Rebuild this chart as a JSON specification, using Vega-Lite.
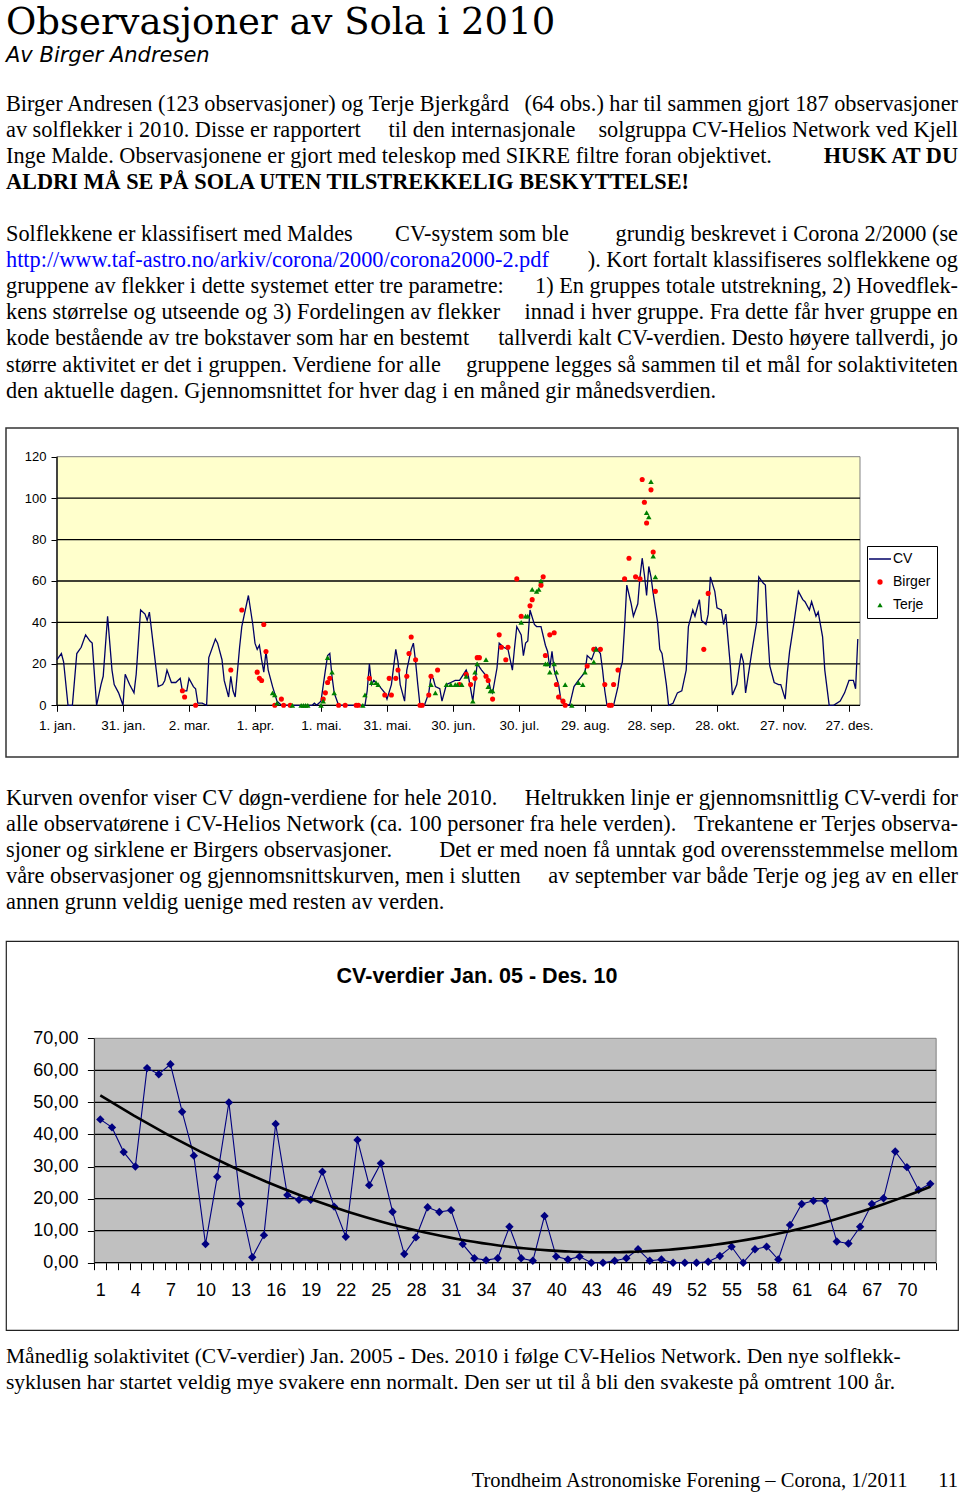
{
  "$schema": "https://vega.github.io/schema/vega-lite/v6.json",
  "background": "white",
  "padding": {"left": 5, "right": 3, "top": 0, "bottom": 0},
  "spacing": 0,
  "bounds": "flush",
  "config": {"view": {"stroke": null},
             "legend": {"labelFont": "Liberation Sans", "labelFontSize": 14, "labelColor": "#000", "rowPadding": 9, "labelOffset": 6, "padding": 6}},
  "datasets": {
    "cv": [
      {"d":0,"v":22},{"d":2,"v":25},{"d":3,"v":21},{"d":5,"v":0},{"d":7,"v":0},{"d":9,"v":25},{"d":11,"v":28},{"d":13,"v":34},{"d":15,"v":31},{"d":16,"v":30},{"d":18,"v":0},{"d":20,"v":10},{"d":21,"v":14},{"d":23,"v":43},{"d":25,"v":17},{"d":26,"v":10},{"d":28,"v":6},{"d":30,"v":0},{"d":31,"v":15},{"d":33,"v":10},{"d":35,"v":6},{"d":36,"v":15},{"d":38,"v":46},{"d":40,"v":44},{"d":41,"v":41},{"d":42,"v":45},{"d":44,"v":27},{"d":46,"v":9},{"d":48,"v":10},{"d":49,"v":12},{"d":50,"v":17},{"d":52,"v":11},{"d":54,"v":11},{"d":56,"v":13},{"d":57,"v":7},{"d":59,"v":7},{"d":60,"v":13},{"d":62,"v":9},{"d":63,"v":8},{"d":64,"v":1},{"d":66,"v":1},{"d":68,"v":0},{"d":69,"v":23},{"d":72,"v":32},{"d":73,"v":30},{"d":75,"v":22},{"d":76,"v":12},{"d":78,"v":4},{"d":79,"v":14},{"d":80,"v":7},{"d":81,"v":4},{"d":83,"v":28},{"d":84,"v":38},{"d":85,"v":43},{"d":87,"v":53},{"d":89,"v":39},{"d":90,"v":30},{"d":91,"v":27},{"d":92,"v":29},{"d":93,"v":22},{"d":94,"v":16},{"d":95,"v":26},{"d":96,"v":17},{"d":98,"v":9},{"d":100,"v":2},{"d":102,"v":0},{"d":116,"v":0},{"d":117,"v":1},{"d":118,"v":0},{"d":120,"v":2},{"d":122,"v":17},{"d":123,"v":24},{"d":124,"v":25},{"d":125,"v":14},{"d":126,"v":6},{"d":128,"v":0},{"d":140,"v":0},{"d":141,"v":7},{"d":142,"v":20},{"d":143,"v":10},{"d":144,"v":12},{"d":146,"v":10},{"d":149,"v":6},{"d":150,"v":3},{"d":152,"v":10},{"d":154,"v":27},{"d":155,"v":21},{"d":156,"v":10},{"d":158,"v":2},{"d":159,"v":17},{"d":161,"v":27},{"d":162,"v":30},{"d":163,"v":21},{"d":164,"v":10},{"d":165,"v":0},{"d":167,"v":0},{"d":169,"v":6},{"d":170,"v":14},{"d":171,"v":13},{"d":172,"v":9},{"d":174,"v":8},{"d":175,"v":2},{"d":177,"v":10},{"d":179,"v":11},{"d":181,"v":12},{"d":183,"v":12},{"d":186,"v":17},{"d":187,"v":14},{"d":189,"v":2},{"d":191,"v":20},{"d":193,"v":17},{"d":196,"v":13},{"d":197,"v":8},{"d":198,"v":6},{"d":200,"v":18},{"d":201,"v":30},{"d":203,"v":28},{"d":205,"v":27},{"d":207,"v":17},{"d":208,"v":28},{"d":209,"v":38},{"d":211,"v":34},{"d":212,"v":24},{"d":213,"v":30},{"d":214,"v":31},{"d":215,"v":46},{"d":217,"v":39},{"d":218,"v":38},{"d":220,"v":38},{"d":222,"v":29},{"d":223,"v":26},{"d":224,"v":18},{"d":225,"v":26},{"d":226,"v":17},{"d":228,"v":10},{"d":229,"v":3},{"d":230,"v":1},{"d":233,"v":0},{"d":235,"v":9},{"d":237,"v":12},{"d":240,"v":16},{"d":241,"v":24},{"d":243,"v":22},{"d":245,"v":28},{"d":247,"v":25},{"d":248,"v":17},{"d":249,"v":7},{"d":250,"v":0},{"d":253,"v":0},{"d":255,"v":9},{"d":256,"v":17},{"d":257,"v":21},{"d":258,"v":38},{"d":259,"v":58},{"d":261,"v":49},{"d":262,"v":43},{"d":264,"v":49},{"d":265,"v":62},{"d":266,"v":71},{"d":267,"v":63},{"d":268,"v":53},{"d":269,"v":67},{"d":270,"v":62},{"d":271,"v":54},{"d":272,"v":47},{"d":273,"v":40},{"d":274,"v":27},{"d":275,"v":25},{"d":277,"v":10},{"d":278,"v":0},{"d":280,"v":1},{"d":282,"v":6},{"d":284,"v":7},{"d":286,"v":17},{"d":287,"v":38},{"d":289,"v":46},{"d":290,"v":43},{"d":292,"v":51},{"d":293,"v":41},{"d":294,"v":40},{"d":295,"v":39},{"d":296,"v":44},{"d":297,"v":62},{"d":299,"v":55},{"d":300,"v":47},{"d":302,"v":46},{"d":303,"v":39},{"d":304,"v":44},{"d":306,"v":20},{"d":307,"v":5},{"d":309,"v":10},{"d":311,"v":25},{"d":312,"v":21},{"d":313,"v":6},{"d":315,"v":20},{"d":316,"v":27},{"d":318,"v":40},{"d":319,"v":62},{"d":321,"v":59},{"d":322,"v":58},{"d":323,"v":36},{"d":324,"v":19},{"d":326,"v":11},{"d":328,"v":10},{"d":329,"v":10},{"d":331,"v":3},{"d":332,"v":16},{"d":333,"v":26},{"d":335,"v":40},{"d":337,"v":55},{"d":339,"v":51},{"d":340,"v":50},{"d":342,"v":46},{"d":343,"v":50},{"d":345,"v":43},{"d":346,"v":45},{"d":348,"v":33},{"d":349,"v":17},{"d":351,"v":0},{"d":353,"v":0},{"d":356,"v":2},{"d":358,"v":6},{"d":360,"v":12},{"d":362,"v":12},{"d":363,"v":8},{"d":364,"v":32}
    ],
    "birger": [
      {"d":57,"v":7},{"d":58,"v":4},{"d":63,"v":0},{"d":79,"v":17},{"d":84,"v":46},{"d":91,"v":16},{"d":92,"v":13},{"d":93,"v":12},{"d":94,"v":39},{"d":95,"v":26},{"d":99,"v":0},{"d":102,"v":3},{"d":103,"v":0},{"d":106,"v":0},{"d":121,"v":3},{"d":122,"v":6},{"d":123,"v":11},{"d":124,"v":13},{"d":128,"v":0},{"d":131,"v":0},{"d":136,"v":0},{"d":137,"v":0},{"d":142,"v":13},{"d":149,"v":5},{"d":151,"v":13},{"d":152,"v":5},{"d":154,"v":13},{"d":155,"v":17},{"d":159,"v":14},{"d":160,"v":25},{"d":161,"v":33},{"d":163,"v":22},{"d":165,"v":0},{"d":166,"v":0},{"d":169,"v":5},{"d":170,"v":14},{"d":173,"v":17},{"d":183,"v":10},{"d":186,"v":15},{"d":188,"v":10},{"d":190,"v":13},{"d":191,"v":23},{"d":192,"v":23},{"d":195,"v":14},{"d":196,"v":12},{"d":198,"v":3},{"d":201,"v":34},{"d":202,"v":28},{"d":204,"v":22},{"d":205,"v":28},{"d":209,"v":61},{"d":211,"v":43},{"d":215,"v":48},{"d":216,"v":51},{"d":220,"v":58},{"d":221,"v":62},{"d":222,"v":24},{"d":224,"v":34},{"d":226,"v":35},{"d":227,"v":10},{"d":228,"v":4},{"d":230,"v":2},{"d":231,"v":0},{"d":241,"v":19},{"d":244,"v":27},{"d":247,"v":27},{"d":249,"v":10},{"d":251,"v":0},{"d":252,"v":0},{"d":253,"v":10},{"d":255,"v":17},{"d":258,"v":61},{"d":260,"v":71},{"d":263,"v":62},{"d":265,"v":61},{"d":266,"v":109},{"d":267,"v":98},{"d":268,"v":88},{"d":270,"v":104},{"d":271,"v":74},{"d":272,"v":55},{"d":294,"v":27},{"d":296,"v":54}
    ],
    "terje": [
      {"d":98,"v":6},{"d":99,"v":5},{"d":100,"v":1},{"d":107,"v":0},{"d":111,"v":0},{"d":112,"v":0},{"d":113,"v":0},{"d":114,"v":0},{"d":120,"v":0},{"d":121,"v":2},{"d":123,"v":23},{"d":125,"v":16},{"d":126,"v":6},{"d":139,"v":0},{"d":140,"v":5},{"d":143,"v":11},{"d":145,"v":11},{"d":146,"v":10},{"d":170,"v":10},{"d":172,"v":6},{"d":177,"v":10},{"d":179,"v":10},{"d":181,"v":10},{"d":182,"v":10},{"d":184,"v":10},{"d":186,"v":14},{"d":189,"v":2},{"d":190,"v":16},{"d":191,"v":20},{"d":195,"v":22},{"d":196,"v":9},{"d":197,"v":7},{"d":198,"v":7},{"d":211,"v":40},{"d":213,"v":43},{"d":214,"v":43},{"d":216,"v":56},{"d":218,"v":55},{"d":219,"v":56},{"d":220,"v":60},{"d":222,"v":20},{"d":223,"v":20},{"d":224,"v":16},{"d":226,"v":20},{"d":227,"v":16},{"d":231,"v":10},{"d":234,"v":0},{"d":237,"v":11},{"d":239,"v":10},{"d":240,"v":16},{"d":244,"v":21},{"d":245,"v":27},{"d":268,"v":93},{"d":269,"v":91},{"d":270,"v":108},{"d":271,"v":72},{"d":272,"v":62}
    ],
    "monthly": [
      {"m":1,"v":44.7},{"m":2,"v":42.2},{"m":3,"v":34.5},{"m":4,"v":30},{"m":5,"v":60.7},{"m":6,"v":58.8},{"m":7,"v":61.9},{"m":8,"v":47.1},{"m":9,"v":33.4},{"m":10,"v":5.8},{"m":11,"v":26.8},{"m":12,"v":50},{"m":13,"v":18.4},{"m":14,"v":1.7},{"m":15,"v":8.6},{"m":16,"v":43.3},{"m":17,"v":21.1},{"m":18,"v":19.6},{"m":19,"v":19.6},{"m":20,"v":28.4},{"m":21,"v":17.5},{"m":22,"v":8.1},{"m":23,"v":38.3},{"m":24,"v":24.2},{"m":25,"v":31},{"m":26,"v":15.9},{"m":27,"v":2.7},{"m":28,"v":7.9},{"m":29,"v":17.3},{"m":30,"v":15.8},{"m":31,"v":16.4},{"m":32,"v":5.8},{"m":33,"v":1.4},{"m":34,"v":0.8},{"m":35,"v":1.4},{"m":36,"v":11.2},{"m":37,"v":1.4},{"m":38,"v":0.6},{"m":39,"v":14.6},{"m":40,"v":1.9},{"m":41,"v":1.0},{"m":42,"v":1.9},{"m":43,"v":0},{"m":44,"v":0},{"m":45,"v":0.6},{"m":46,"v":1.4},{"m":47,"v":4.2},{"m":48,"v":0.6},{"m":49,"v":1.0},{"m":50,"v":0},{"m":51,"v":0},{"m":52,"v":0},{"m":53,"v":0.3},{"m":54,"v":2.1},{"m":55,"v":5},{"m":56,"v":0},{"m":57,"v":4.2},{"m":58,"v":5},{"m":59,"v":1.0},{"m":60,"v":11.8},{"m":61,"v":18.3},{"m":62,"v":19.3},{"m":63,"v":19.3},{"m":64,"v":6.6},{"m":65,"v":6},{"m":66,"v":11.2},{"m":67,"v":18.3},{"m":68,"v":20.1},{"m":69,"v":34.7},{"m":70,"v":29.8},{"m":71,"v":22.7},{"m":72,"v":24.6}
    ]
  },
  "vconcat": [
    {
      "width": 952, "height": 428,
      "view": {"stroke": null},
      "encoding": {
        "y": {"field": "line", "type": "quantitative", "scale": {"domain": [-4.288, 12.173], "range": [0, 428], "nice": false, "zero": false}, "axis": null},
        "text": {"field": "text"}
      },
      "layer": [
        {"data": {"values": [{"line": -3, "text": "Observasjoner av Sola i 2010"}]},
         "mark": {"type": "text", "align": "left", "baseline": "alphabetic", "font": "DejaVu Serif", "fontSize": 37, "dy": 1, "color": "#000"},
         "encoding": {"x": {"value": 0}}},
        {"data": {"values": [{"line": -2, "text": "Av Birger Andresen"}]},
         "mark": {"type": "text", "align": "left", "baseline": "alphabetic", "font": "DejaVu Sans", "fontStyle": "italic", "fontSize": 21, "dy": 2.5, "color": "#000"},
         "encoding": {"x": {"value": 0}}},
        {"data": {"values": [
          {"line": 0, "text": "Birger Andresen (123 observasjoner) og Terje Bjerkgård"},
          {"line": 1, "text": "av solflekker i 2010. Disse er rapportert"},
          {"line": 2, "text": "Inge Malde. Observasjonene er gjort med teleskop med SIKRE filtre foran objektivet."},
          {"line": 5, "text": "Solflekkene er klassifisert med Maldes"},
          {"line": 7, "text": "gruppene av flekker i dette systemet etter tre parametre:"},
          {"line": 8, "text": "kens størrelse og utseende og 3) Fordelingen av flekker"},
          {"line": 9, "text": "kode bestående av tre bokstaver som har en bestemt"},
          {"line": 10, "text": "større aktivitet er det i gruppen. Verdiene for alle"},
          {"line": 11, "text": "den aktuelle dagen. Gjennomsnittet for hver dag i en måned gir månedsverdien."}
         ]},
         "mark": {"type": "text", "align": "left", "baseline": "alphabetic", "font": "Liberation Serif", "fontSize": 22.3, "color": "#000"},
         "encoding": {"x": {"value": 0}}},
        {"data": {"values": [
          {"line": 1, "text": "til den internasjonale"},
          {"line": 5, "text": "CV-system som ble"}
         ]},
         "mark": {"type": "text", "align": "center", "baseline": "alphabetic", "font": "Liberation Serif", "fontSize": 22.3, "color": "#000"},
         "encoding": {"x": {"datum": 0.5, "type": "quantitative", "scale": {"domain": [0, 1], "nice": false, "zero": false}, "axis": null}}},
        {"data": {"values": [
          {"line": 0, "text": "(64 obs.) har til sammen gjort 187 observasjoner"},
          {"line": 1, "text": "solgruppa CV-Helios Network ved Kjell"},
          {"line": 5, "text": "grundig beskrevet i Corona 2/2000 (se"},
          {"line": 6, "text": "). Kort fortalt klassifiseres solflekkene og"},
          {"line": 7, "text": "1) En gruppes totale utstrekning, 2) Hovedflek-"},
          {"line": 8, "text": "innad i hver gruppe. Fra dette får hver gruppe en"},
          {"line": 9, "text": "tallverdi kalt CV-verdien. Desto høyere tallverdi, jo"},
          {"line": 10, "text": "gruppene legges så sammen til et mål for solaktiviteten"}
         ]},
         "mark": {"type": "text", "align": "right", "baseline": "alphabetic", "font": "Liberation Serif", "fontSize": 22.3, "color": "#000"},
         "encoding": {"x": {"value": "width"}}},
        {"data": {"values": [{"line": 3, "text": "ALDRI MÅ SE PÅ SOLA UTEN TILSTREKKELIG BESKYTTELSE!"}]},
         "mark": {"type": "text", "align": "left", "baseline": "alphabetic", "font": "Liberation Serif", "fontWeight": "bold", "fontSize": 22.3, "color": "#000"},
         "encoding": {"x": {"value": 0}}},
        {"data": {"values": [{"line": 2, "text": "HUSK AT DU"}]},
         "mark": {"type": "text", "align": "right", "baseline": "alphabetic", "font": "Liberation Serif", "fontWeight": "bold", "fontSize": 22.3, "color": "#000"},
         "encoding": {"x": {"value": "width"}}},
        {"data": {"values": [{"line": 6, "text": "http://www.taf-astro.no/arkiv/corona/2000/corona2000-2.pdf"}]},
         "mark": {"type": "text", "align": "left", "baseline": "alphabetic", "font": "Liberation Serif", "fontSize": 22.3, "color": "#0000FF"},
         "encoding": {"x": {"value": 0}}}
      ]
    },
    {
      "width": 952, "height": 329,
      "view": {"stroke": "#333333", "strokeWidth": 1.5},
      "layer": [
        {"data": {"values": [{}]},
         "mark": {"type": "rect", "fill": "#FFFFCC", "stroke": "#808080", "strokeWidth": 1},
         "encoding": {
           "x": {"datum": 0, "type": "quantitative",
                 "scale": {"domain": [-23.18, 409.55], "nice": false, "zero": false},
                 "axis": {"values": [0,30,60,90,120,150,180,210,240,270,300,330,360], "tickCount": 100,
                          "labelExpr": "['1. jan.','31. jan.','2. mar.','1. apr.','1. mai.','31. mai.','30. jun.','30. jul.','29. aug.','28. sep.','28. okt.','27. nov.','27. des.'][round(datum.value/30)]",
                          "offset": -51.7, "domain": false, "grid": false, "tickSize": 6, "tickColor": "#000",
                          "labelColor": "#000", "labelFont": "Liberation Sans", "labelFontSize": 13.5, "labelPadding": 7,
                          "title": null, "labelOverlap": false, "labelFlush": false, "labelBound": false}},
           "x2": {"datum": 365},
           "y": {"datum": 0, "type": "quantitative",
                 "scale": {"domain": [-24.96, 133.85], "nice": false, "zero": false},
                 "axis": {"values": [0,20,40,60,80,100,120], "tickCount": 100, "offset": -51, "domain": false, "grid": false,
                          "tickSize": 6, "tickColor": "#000", "labelColor": "#000", "labelFont": "Liberation Sans",
                          "labelFontSize": 13, "labelPadding": 5, "title": null, "labelOverlap": false}},
           "y2": {"datum": 120}
         }},
        {"data": {"values": [{"g": 20},{"g": 40},{"g": 60},{"g": 80},{"g": 100}]},
         "mark": {"type": "rule", "color": "#000", "strokeWidth": 1.3},
         "encoding": {"y": {"field": "g", "type": "quantitative"}, "x": {"datum": 0}, "x2": {"datum": 365}}},
        {"data": {"values": [{}]},
         "mark": {"type": "rule", "color": "#000", "strokeWidth": 1.3},
         "encoding": {"x": {"datum": 0}, "y": {"datum": 0}, "y2": {"datum": 120}}},
        {"data": {"values": [{}]},
         "mark": {"type": "rule", "color": "#000", "strokeWidth": 1.3},
         "encoding": {"y": {"datum": 0}, "x": {"datum": 0}, "x2": {"datum": 365}}},
        {"data": {"name": "cv"},
         "mark": {"type": "line", "strokeWidth": 1.3},
         "encoding": {
           "x": {"field": "d", "type": "quantitative"},
           "y": {"field": "v", "type": "quantitative"},
           "color": {"datum": "CV", "type": "nominal",
                     "scale": {"domain": ["CV","Birger","Terje"], "range": ["#000066","#FF0000","#008000"]},
                     "legend": {"orient": "none", "legendX": 861, "legendY": 546, "title": null,
                                "strokeColor": "#000", "fillColor": "#fff", "padding": 6,
                                "labelFont": "Liberation Sans", "labelFontSize": 14, "labelColor": "#000",
                                "symbolSize": 484, "rowPadding": 9, "labelOffset": 6,
                                "encode": {"symbols": {"update": {
                                  "shape": {"signal": "datum.value === 'CV' ? 'stroke' : datum.value === 'Birger' ? 'circle' : 'triangle-up'"},
                                  "size": {"signal": "datum.value === 'CV' ? 484 : 28"},
                                  "fill": {"scale": "color", "field": "value"},
                                  "stroke": {"scale": "color", "field": "value"},
                                  "strokeWidth": {"signal": "datum.value === 'CV' ? 1.5 : 0"},
                                  "opacity": {"value": 1}}}}}}
         }},
        {"data": {"name": "birger"},
         "mark": {"type": "point", "shape": "circle", "filled": true, "size": 26, "opacity": 1},
         "encoding": {
           "x": {"field": "d", "type": "quantitative"},
           "y": {"field": "v", "type": "quantitative"},
           "color": {"datum": "Birger", "type": "nominal"}
         }},
        {"data": {"name": "terje"},
         "mark": {"type": "point", "shape": "triangle-up", "filled": true, "size": 30, "opacity": 1},
         "encoding": {
           "x": {"field": "d", "type": "quantitative"},
           "y": {"field": "v", "type": "quantitative"},
           "color": {"datum": "Terje", "type": "nominal"}
         }}
      ]
    },
    {
      "width": 952, "height": 184,
      "view": {"stroke": null},
      "encoding": {
        "y": {"field": "line", "type": "quantitative", "scale": {"domain": [-1.846, 5.231], "range": [0, 184], "nice": false, "zero": false}, "axis": null},
        "text": {"field": "text"}
      },
      "layer": [
        {"data": {"values": [
          {"line": 0, "text": "Kurven ovenfor viser CV døgn-verdiene for hele 2010."},
          {"line": 1, "text": "alle observatørene i CV-Helios Network (ca. 100 personer fra hele verden)."},
          {"line": 2, "text": "sjoner og sirklene er Birgers observasjoner."},
          {"line": 3, "text": "våre observasjoner og gjennomsnittskurven, men i slutten"},
          {"line": 4, "text": "annen grunn veldig uenige med resten av verden."}
         ]},
         "mark": {"type": "text", "align": "left", "baseline": "alphabetic", "font": "Liberation Serif", "fontSize": 22.3, "color": "#000"},
         "encoding": {"x": {"value": 0}}},
        {"data": {"values": [
          {"line": 0, "text": "Heltrukken linje er gjennomsnittlig CV-verdi for"},
          {"line": 1, "text": "Trekantene er Terjes observa-"},
          {"line": 2, "text": "Det er med noen få unntak god overensstemmelse mellom"},
          {"line": 3, "text": "av september var både Terje og jeg av en eller"}
         ]},
         "mark": {"type": "text", "align": "right", "baseline": "alphabetic", "font": "Liberation Serif", "fontSize": 22.3, "color": "#000"},
         "encoding": {"x": {"value": "width"}}}
      ]
    },
    {
      "width": 952, "height": 389,
      "view": {"stroke": "#222222", "strokeWidth": 1.2},
      "title": {"text": "CV-verdier Jan. 05 - Des. 10", "offset": -63, "baseline": "alphabetic", "anchor": "middle",
                "font": "Liberation Sans", "fontSize": 21.5, "fontWeight": "bold", "color": "#000", "dx": -5},
      "layer": [
        {"data": {"values": [{}]},
         "mark": {"type": "rect", "fill": "#C0C0C0", "stroke": "#808080", "strokeWidth": 1},
         "encoding": {
           "x": {"datum": 0.5, "type": "quantitative",
                 "scale": {"domain": [-7.067, 74.37], "nice": false, "zero": false},
                 "axis": {"values": [1,2,3,4,5,6,7,8,9,10,11,12,13,14,15,16,17,18,19,20,21,22,23,24,25,26,27,28,29,30,31,32,33,34,35,36,37,38,39,40,41,42,43,44,45,46,47,48,49,50,51,52,53,54,55,56,57,58,59,60,61,62,63,64,65,66,67,68,69,70,71,72,73],
                          "tickCount": 200,
                          "labelExpr": "datum.value <= 70 && (datum.value - 1) % 3 == 0 ? format(datum.value, 'd') : ''",
                          "tickOffset": -5.845, "labelOffset": 5.845,
                          "offset": -67.3, "domain": false, "grid": false, "tickSize": 7, "tickColor": "#000",
                          "labelColor": "#000", "labelFont": "Liberation Sans", "labelFontSize": 18, "labelPadding": 12,
                          "title": null, "labelOverlap": false, "labelFlush": false, "labelBound": false}},
           "x2": {"datum": 72.5},
           "y": {"datum": 0, "type": "quantitative",
                 "scale": {"domain": [-20.99, 100.35], "nice": false, "zero": false},
                 "axis": {"values": [0,10,20,30,40,50,60,70], "tickCount": 100,
                          "labelExpr": "replace(format(datum.value, '.2f'), '.', ',')",
                          "offset": -88.4, "domain": false, "grid": false, "tickSize": 7, "tickColor": "#000",
                          "labelColor": "#000", "labelFont": "Liberation Sans", "labelFontSize": 18, "labelPadding": 9.5,
                          "title": null, "labelOverlap": false}},
           "y2": {"datum": 70}
         }},
        {"data": {"values": [{"g": 10},{"g": 20},{"g": 30},{"g": 40},{"g": 50},{"g": 60}]},
         "mark": {"type": "rule", "color": "#000", "strokeWidth": 1.3},
         "encoding": {"y": {"field": "g", "type": "quantitative"}, "x": {"datum": 0.5}, "x2": {"datum": 72.5}}},
        {"data": {"values": [{}]},
         "mark": {"type": "rule", "color": "#333", "strokeWidth": 1.2},
         "encoding": {"x": {"datum": 0.5}, "y": {"datum": 0}, "y2": {"datum": 70}}},
        {"data": {"values": [{}]},
         "mark": {"type": "rule", "color": "#000", "strokeWidth": 1.3},
         "encoding": {"y": {"datum": 0}, "x": {"datum": 0.5}, "x2": {"datum": 72.5}}},
        {"data": {"name": "monthly"},
         "mark": {"type": "line", "color": "#000080", "strokeWidth": 1.1},
         "encoding": {"x": {"field": "m", "type": "quantitative"}, "y": {"field": "v", "type": "quantitative"}}},
        {"data": {"name": "monthly"},
         "mark": {"type": "point", "shape": "diamond", "filled": true, "size": 70, "color": "#000080", "opacity": 1},
         "encoding": {"x": {"field": "m", "type": "quantitative"}, "y": {"field": "v", "type": "quantitative"}}},
        {"data": {"name": "monthly"},
         "transform": [{"regression": "v", "on": "m", "method": "poly", "order": 2, "extent": [1, 72]}],
         "mark": {"type": "line", "color": "#000", "strokeWidth": 2.6},
         "encoding": {"x": {"field": "m", "type": "quantitative"}, "y": {"field": "v", "type": "quantitative"}}}
      ]
    },
    {
      "width": 952, "height": 162,
      "view": {"stroke": null},
      "encoding": {
        "y": {"field": "line", "type": "quantitative", "scale": {"domain": [-1.269, 4.962], "range": [0, 162], "nice": false, "zero": false}, "axis": null},
        "text": {"field": "text"}
      },
      "layer": [
        {"data": {"values": [
          {"line": 0, "text": "Månedlig solaktivitet (CV-verdier) Jan. 2005 - Des. 2010 i følge CV-Helios Network. Den nye solflekk-"},
          {"line": 1, "text": "syklusen har startet veldig mye svakere enn normalt. Den ser ut til å bli den svakeste på omtrent 100 år."}
         ]},
         "mark": {"type": "text", "align": "left", "baseline": "alphabetic", "font": "Liberation Serif", "fontSize": 21.5, "color": "#000"},
         "encoding": {"x": {"value": 0}}},
        {"data": {"values": [
          {"line": 5, "text": "Trondheim Astronomiske Forening – Corona, 1/2011\u00a0\u00a0\u00a0\u00a0\u00a0\u00a011"}
         ]},
         "mark": {"type": "text", "align": "right", "baseline": "alphabetic", "font": "Liberation Serif", "fontSize": 20.5, "dy": -6, "color": "#000"},
         "encoding": {"x": {"value": "width"}}}
      ]
    }
  ]
}
